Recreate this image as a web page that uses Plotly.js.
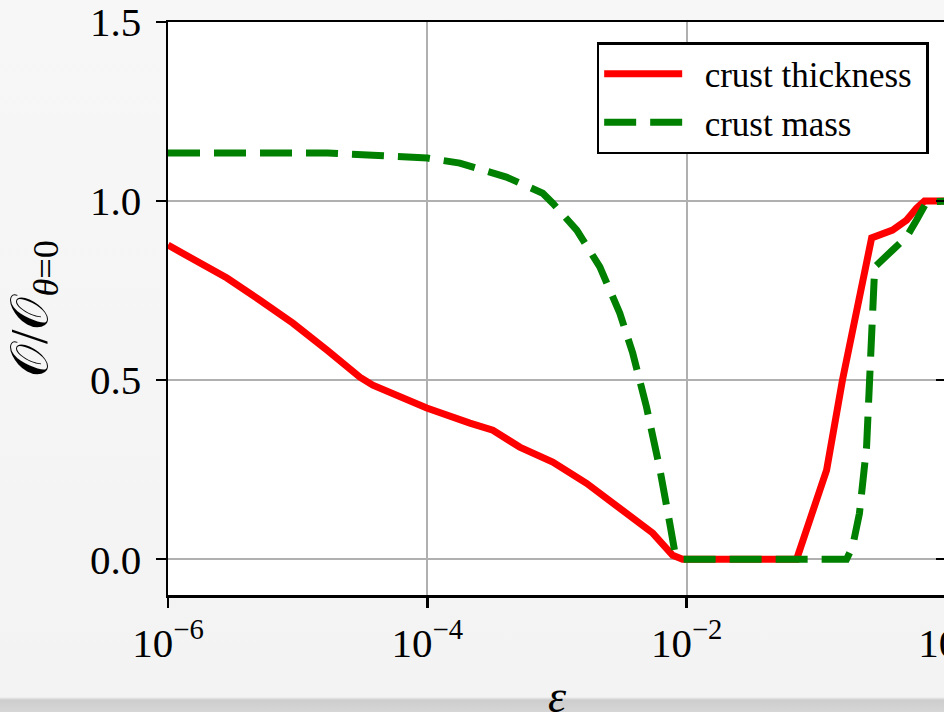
<!DOCTYPE html>
<html>
<head>
<meta charset="utf-8">
<script src="https://cdn.plot.ly/plotly-3.0.1.min.js"></script>
<style>
  html, body { margin: 0; padding: 0; width: 944px; height: 712px; overflow: hidden;
    background: linear-gradient(to bottom, #f7f7f7 0px, #f3f3f3 697px, #cdcdcd 700px, #d6d6d6 712px); }
  #chart { width: 1000px; height: 740px; }
</style>
</head>
<body>
<div id="chart"></div>
<script>
// crust thickness (red, solid)
const thicknessEps = [1.0e-6, 2.85e-6, 5.12e-6, 9.18e-6, 1.68e-5, 3.02e-5, 3.80e-5, 9.9e-5, 2.13e-4, 3.2e-4, 5.16e-4, 9.27e-4, 1.69e-3, 3.05e-3, 5.47e-3, 7.8e-3, 9.3e-3, 7.05e-2, 0.12, 0.159, 0.215, 0.267, 0.387, 0.497, 0.593, 0.682, 1.0];
const thicknessRatio = [0.877, 0.785, 0.723, 0.659, 0.584, 0.508, 0.486, 0.422, 0.380, 0.360, 0.313, 0.271, 0.212, 0.145, 0.073, 0.011, 0.0, 0.0, 0.249, 0.5, 0.732, 0.897, 0.919, 0.947, 0.980, 1.0, 1.0];

// crust mass (green, dashed)
const massEps = [1.0e-6, 1.7e-5, 3.8e-5, 1.0e-4, 1.78e-4, 4.07e-4, 7.76e-4, 9.27e-4, 1.42e-3, 2.14e-3, 3.05e-3, 3.84e-3, 4.9e-3, 6.17e-3, 7.41e-3, 8.13e-3, 9.3e-3, 0.171, 0.19, 0.215, 0.244, 0.257, 0.271, 0.282, 0.387, 0.497, 0.593, 0.708, 1.0];
const massRatio = [1.134, 1.134, 1.128, 1.12, 1.106, 1.067, 1.022, 0.994, 0.919, 0.816, 0.687, 0.575, 0.425, 0.257, 0.1, 0.017, 0.0, 0.0, 0.034, 0.128, 0.313, 0.5, 0.687, 0.816, 0.863, 0.9, 0.947, 0.997, 1.0];

const seriesNames = ["crust thickness", "crust mass"];
const xTickVals = [1e-6, 1e-4, 1e-2, 1];
const xTickText = ["10<sup>−6</sup>", "10<sup>−4</sup>", "10<sup>−2</sup>", "10<sup>0</sup>"];
const yTickVals = [0, 0.5, 1.0, 1.5];
const yTickText = ["0.0", "0.5", "1.0", "1.5"];

const serif = "Liberation Serif, Times New Roman, serif";
const pad = "\u00a0\u00a0";

const traces = [
  { x: thicknessEps, y: thicknessRatio, name: pad + seriesNames[0] + "\u00a0", mode: "lines",
    line: { color: "#ff0000", width: 7 } },
  { x: massEps, y: massRatio, name: pad + seriesNames[1] + "\u00a0", mode: "lines",
    line: { color: "#008000", width: 7, dash: "32px,14px" } },
  { x: [1], y: [0], yaxis: "y2", showlegend: false, hoverinfo: "skip", mode: "markers",
    marker: { opacity: 0, size: 1 } }
];

const layout = {
  width: 1000, height: 740,
  margin: { l: 168, r: 54, t: 22, b: 145 },
  paper_bgcolor: "rgba(0,0,0,0)",
  plot_bgcolor: "#ffffff",
  font: { family: serif, color: "#000000", size: 40 },
  showlegend: true,
  legend: {
    x: 0.551, y: 0.965, xanchor: "left", yanchor: "top",
    bgcolor: "#ffffff", bordercolor: "#000000", borderwidth: 2.5,
    font: { family: serif, size: 35, color: "#000000" },
    itemwidth: 78, tracegroupgap: 0
  },
  xaxis: {
    type: "log", range: [-6, 0],
    tickvals: xTickVals, ticktext: xTickText,
    ticks: "outside", ticklen: 10, tickwidth: 2.5, tickcolor: "#000000",
    showline: true, linecolor: "#000000", linewidth: 2.5, mirror: true,
    showgrid: true, gridcolor: "#b0b0b0", gridwidth: 1.8,
    zeroline: false, ticklabeloverflow: "allow",
    tickfont: { family: serif, size: 41 },
    title: { text: "<i>ε</i>", font: { family: serif, size: 46 }, standoff: 15 }
  },
  yaxis: {
    range: [-0.1, 1.5],
    tickvals: yTickVals, ticktext: yTickText,
    ticks: "outside", ticklen: 10, tickwidth: 2.5, tickcolor: "#000000",
    showline: true, linecolor: "#000000", linewidth: 2.5, mirror: true,
    showgrid: true, gridcolor: "#b0b0b0", gridwidth: 1.8,
    zeroline: false, ticklabeloverflow: "allow", ticklabelstandoff: 6,
    tickfont: { family: serif, size: 41 },
    title: { text: "𝒪/𝒪<sub><i>θ</i>=0</sub>", font: { family: serif, size: 52 }, standoff: 26 }
  },
  yaxis2: {
    overlaying: "y", side: "right", range: [-0.1, 1.5],
    tickvals: yTickVals, showticklabels: false,
    ticks: "inside", ticklen: 10, tickwidth: 2.5, tickcolor: "#000000",
    showline: false, showgrid: false, zeroline: false
  }
};

Plotly.newPlot("chart", traces, layout, { displayModeBar: false, staticPlot: true });
</script>
</body>
</html>
